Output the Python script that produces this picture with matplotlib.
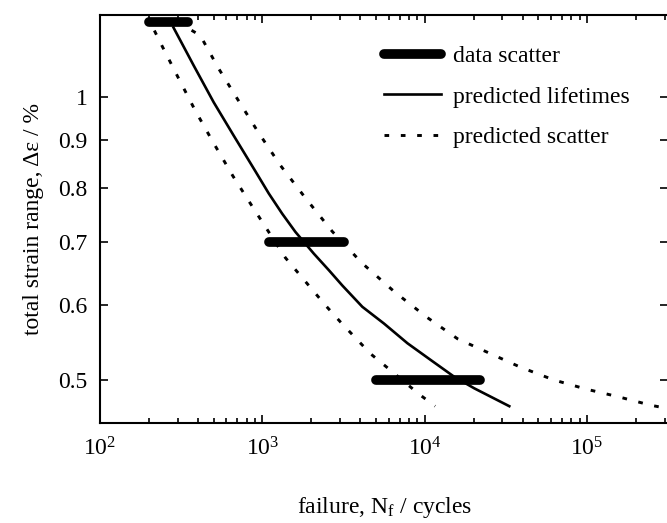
import numpy as np
import matplotlib
matplotlib.use("Agg")
import matplotlib.pyplot as plt
import matplotlib.ticker as mticker

plt.rcParams["font.family"] = ["Liberation Serif", "DejaVu Serif"]
plt.rcParams["mathtext.fontset"] = "custom"
plt.rcParams["mathtext.rm"] = "Liberation Serif"
plt.rcParams["mathtext.it"] = "Liberation Serif:italic"

# ── Data ───────────────────────────────────────────────────────────────────────

# data scatter bars: (strain level, N min, N max)
scatter_strain = [1.2, 0.7, 0.5]
scatter_n_min = [200, 1100, 5000]
scatter_n_max = [350, 3200, 22000]

# predicted lifetime curve
life_n = [283, 377, 501, 665, 905, 1094, 1323, 1598, 2073, 2566, 3105, 4125,
          5608, 7822, 10890, 15170, 20150, 33150]
life_strain = [1.184, 1.079, 0.986, 0.909, 0.833, 0.789, 0.751, 0.718, 0.681,
               0.654, 0.630, 0.598, 0.574, 0.547, 0.525, 0.504, 0.490, 0.469]

# predicted scatter, upper (long-life) bound
upper_n = [300, 414, 537, 704, 940, 1291, 1843, 2692, 4123, 6528, 10290, 15920,
           25550, 38770, 62500, 98600, 155000, 248000, 320000]
upper_strain = [1.2, 1.161, 1.071, 0.993, 0.917, 0.845, 0.780, 0.719, 0.665,
                0.620, 0.583, 0.553, 0.533, 0.516, 0.500, 0.489, 0.480, 0.470, 0.466]

# predicted scatter, lower (short-life) bound
lower_n = [216, 240, 304, 386, 501, 659, 884, 1387, 2449, 3030, 3751, 4642,
           5827, 9222, 11580]
lower_strain = [1.175, 1.133, 1.046, 0.966, 0.892, 0.823, 0.760, 0.674, 0.600,
                0.576, 0.554, 0.533, 0.516, 0.483, 0.469]

y_ticks = [0.5, 0.6, 0.7, 0.8, 0.9, 1.0]
y_tick_labels = ["0.5", "0.6", "0.7", "0.8", "0.9", "1"]

FONTSIZE = 17

# ── Figure ─────────────────────────────────────────────────────────────────────

fig = plt.figure(figsize=(6.67, 5.23), dpi=100)
ax = fig.add_axes([0.150, 0.191, 0.852, 0.780])

for i, (s, n0, n1) in enumerate(zip(scatter_strain, scatter_n_min, scatter_n_max)):
    ax.plot([n0, n1], [s, s], color="black", lw=7, solid_capstyle="round",
            label="data scatter" if i == 0 else None, zorder=3)

ax.plot(life_n, life_strain, color="black", lw=1.9, label="predicted lifetimes")
ax.plot(upper_n, upper_strain, color="black", lw=2.1, linestyle=(0, (1.6, 4.0)),
        label="predicted scatter")
ax.plot(lower_n, lower_strain, color="black", lw=2.1, linestyle=(0, (1.6, 4.0)))

ax.set_xscale("log")
ax.set_yscale("log")
ax.set_xlim(100, 10 ** 5.5)
ax.set_ylim(0.45, 1.22)

ax.xaxis.set_major_locator(mticker.LogLocator(base=10, numticks=10))
ax.xaxis.set_minor_locator(mticker.LogLocator(base=10, subs=np.arange(2, 10), numticks=10))
ax.xaxis.set_major_formatter(mticker.LogFormatterMathtext())

ax.yaxis.set_major_locator(mticker.FixedLocator(y_ticks))
ax.yaxis.set_major_formatter(mticker.FixedFormatter(y_tick_labels))
ax.yaxis.set_minor_locator(mticker.NullLocator())

ax.tick_params(which="both", direction="in", top=True, right=True,
               labelsize=FONTSIZE, width=1.2)
ax.tick_params(which="major", length=6)
ax.tick_params(which="minor", length=3.5)
ax.tick_params(axis="x", pad=10)
ax.tick_params(axis="y", pad=9)

for side in ["left", "bottom", "top"]:
    ax.spines[side].set_linewidth(1.5)
ax.spines["right"].set_visible(False)

ax.set_xlabel(r"failure, N$_{\mathrm{f}}$ / cycles", fontsize=FONTSIZE, labelpad=25)
ax.set_ylabel("total strain range, Δε / %", fontsize=FONTSIZE, labelpad=10)

ax.legend(loc="upper left", bbox_to_anchor=(0.500, 0.925), frameon=False,
          fontsize=FONTSIZE, handlelength=2.4, handletextpad=0.5, labelspacing=0.8,
          borderaxespad=0, borderpad=0)

fig.savefig("out.png", dpi=100, facecolor="white")
